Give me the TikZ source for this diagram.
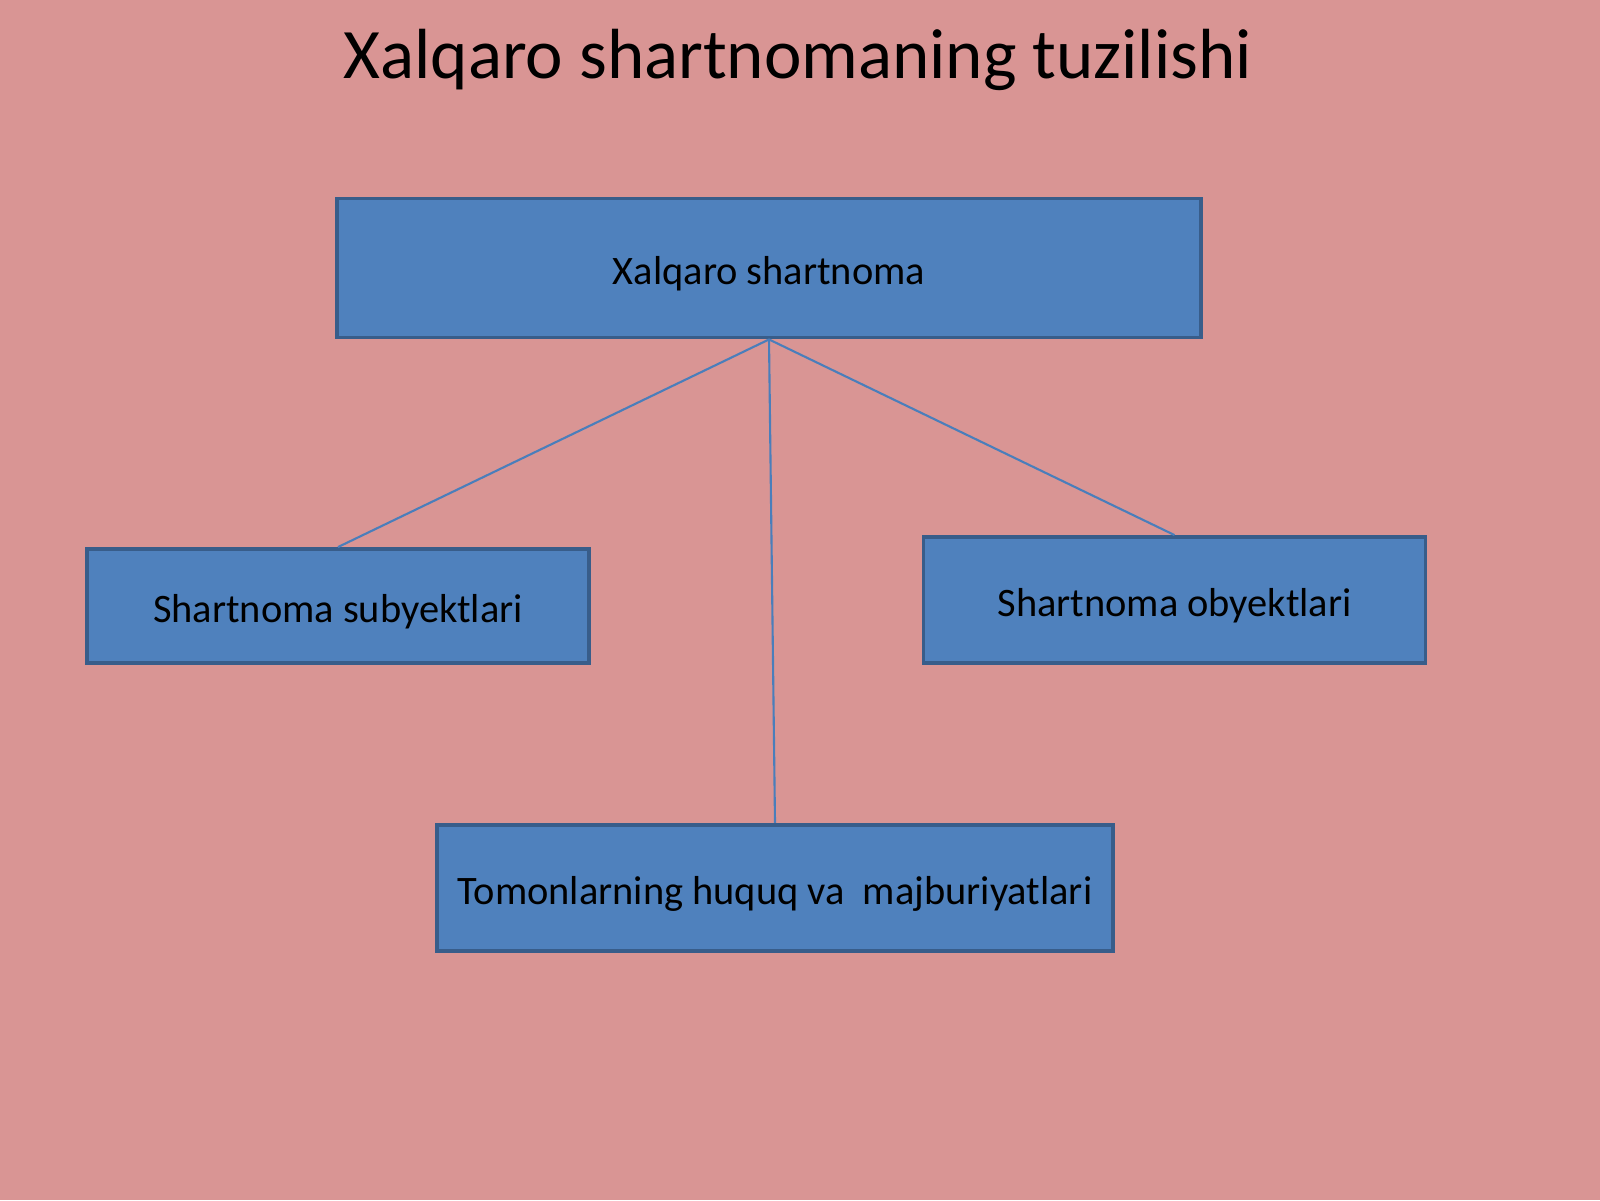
\documentclass[tikz,border=0pt]{standalone}
\usepackage{fontspec}
\setmainfont{Carlito}
\definecolor{slidebg}{RGB}{217,149,148}
\definecolor{boxfill}{RGB}{79,129,189}
\definecolor{boxline}{RGB}{56,93,138}
\definecolor{linkline}{RGB}{74,126,187}
\tikzset{
  box/.style={draw=boxline, line width=1.1pt, fill=boxfill, inner sep=0pt,
    text height=9.2pt, text depth=0pt, font=\fontsize{11.5}{14}\selectfont},
  link/.style={draw=linkline, line width=0.6pt}
}
\begin{document}
\begin{tikzpicture}
\fill[slidebg] (0,0) rectangle (16,12);

\node (title) at (7.98,11.40) {\fontsize{20.2}{24}\selectfont Xalqaro shartnomaning tuzilishi};

\node[box, minimum width=8.64cm, minimum height=1.39cm] (treaty) at (7.69,9.32) {Xalqaro shartnoma};
\node[box, minimum width=5.02cm, minimum height=1.14cm] (subjects) at (3.38,5.94) {Shartnoma subyektlari};
\node[box, minimum width=5.02cm, minimum height=1.26cm] (objects) at (11.745,6.0) {Shartnoma obyektlari};
\node[box, minimum width=6.76cm, minimum height=1.265cm] (rights) at (7.75,3.12) {Tomonlarning huquq va \ majburiyatlari};

\draw[link] (treaty.south) -- (subjects.north);
\draw[link] (treaty.south) -- (objects.north);
\draw[link] (treaty.south) -- (rights.north);
\end{tikzpicture}
\end{document}
